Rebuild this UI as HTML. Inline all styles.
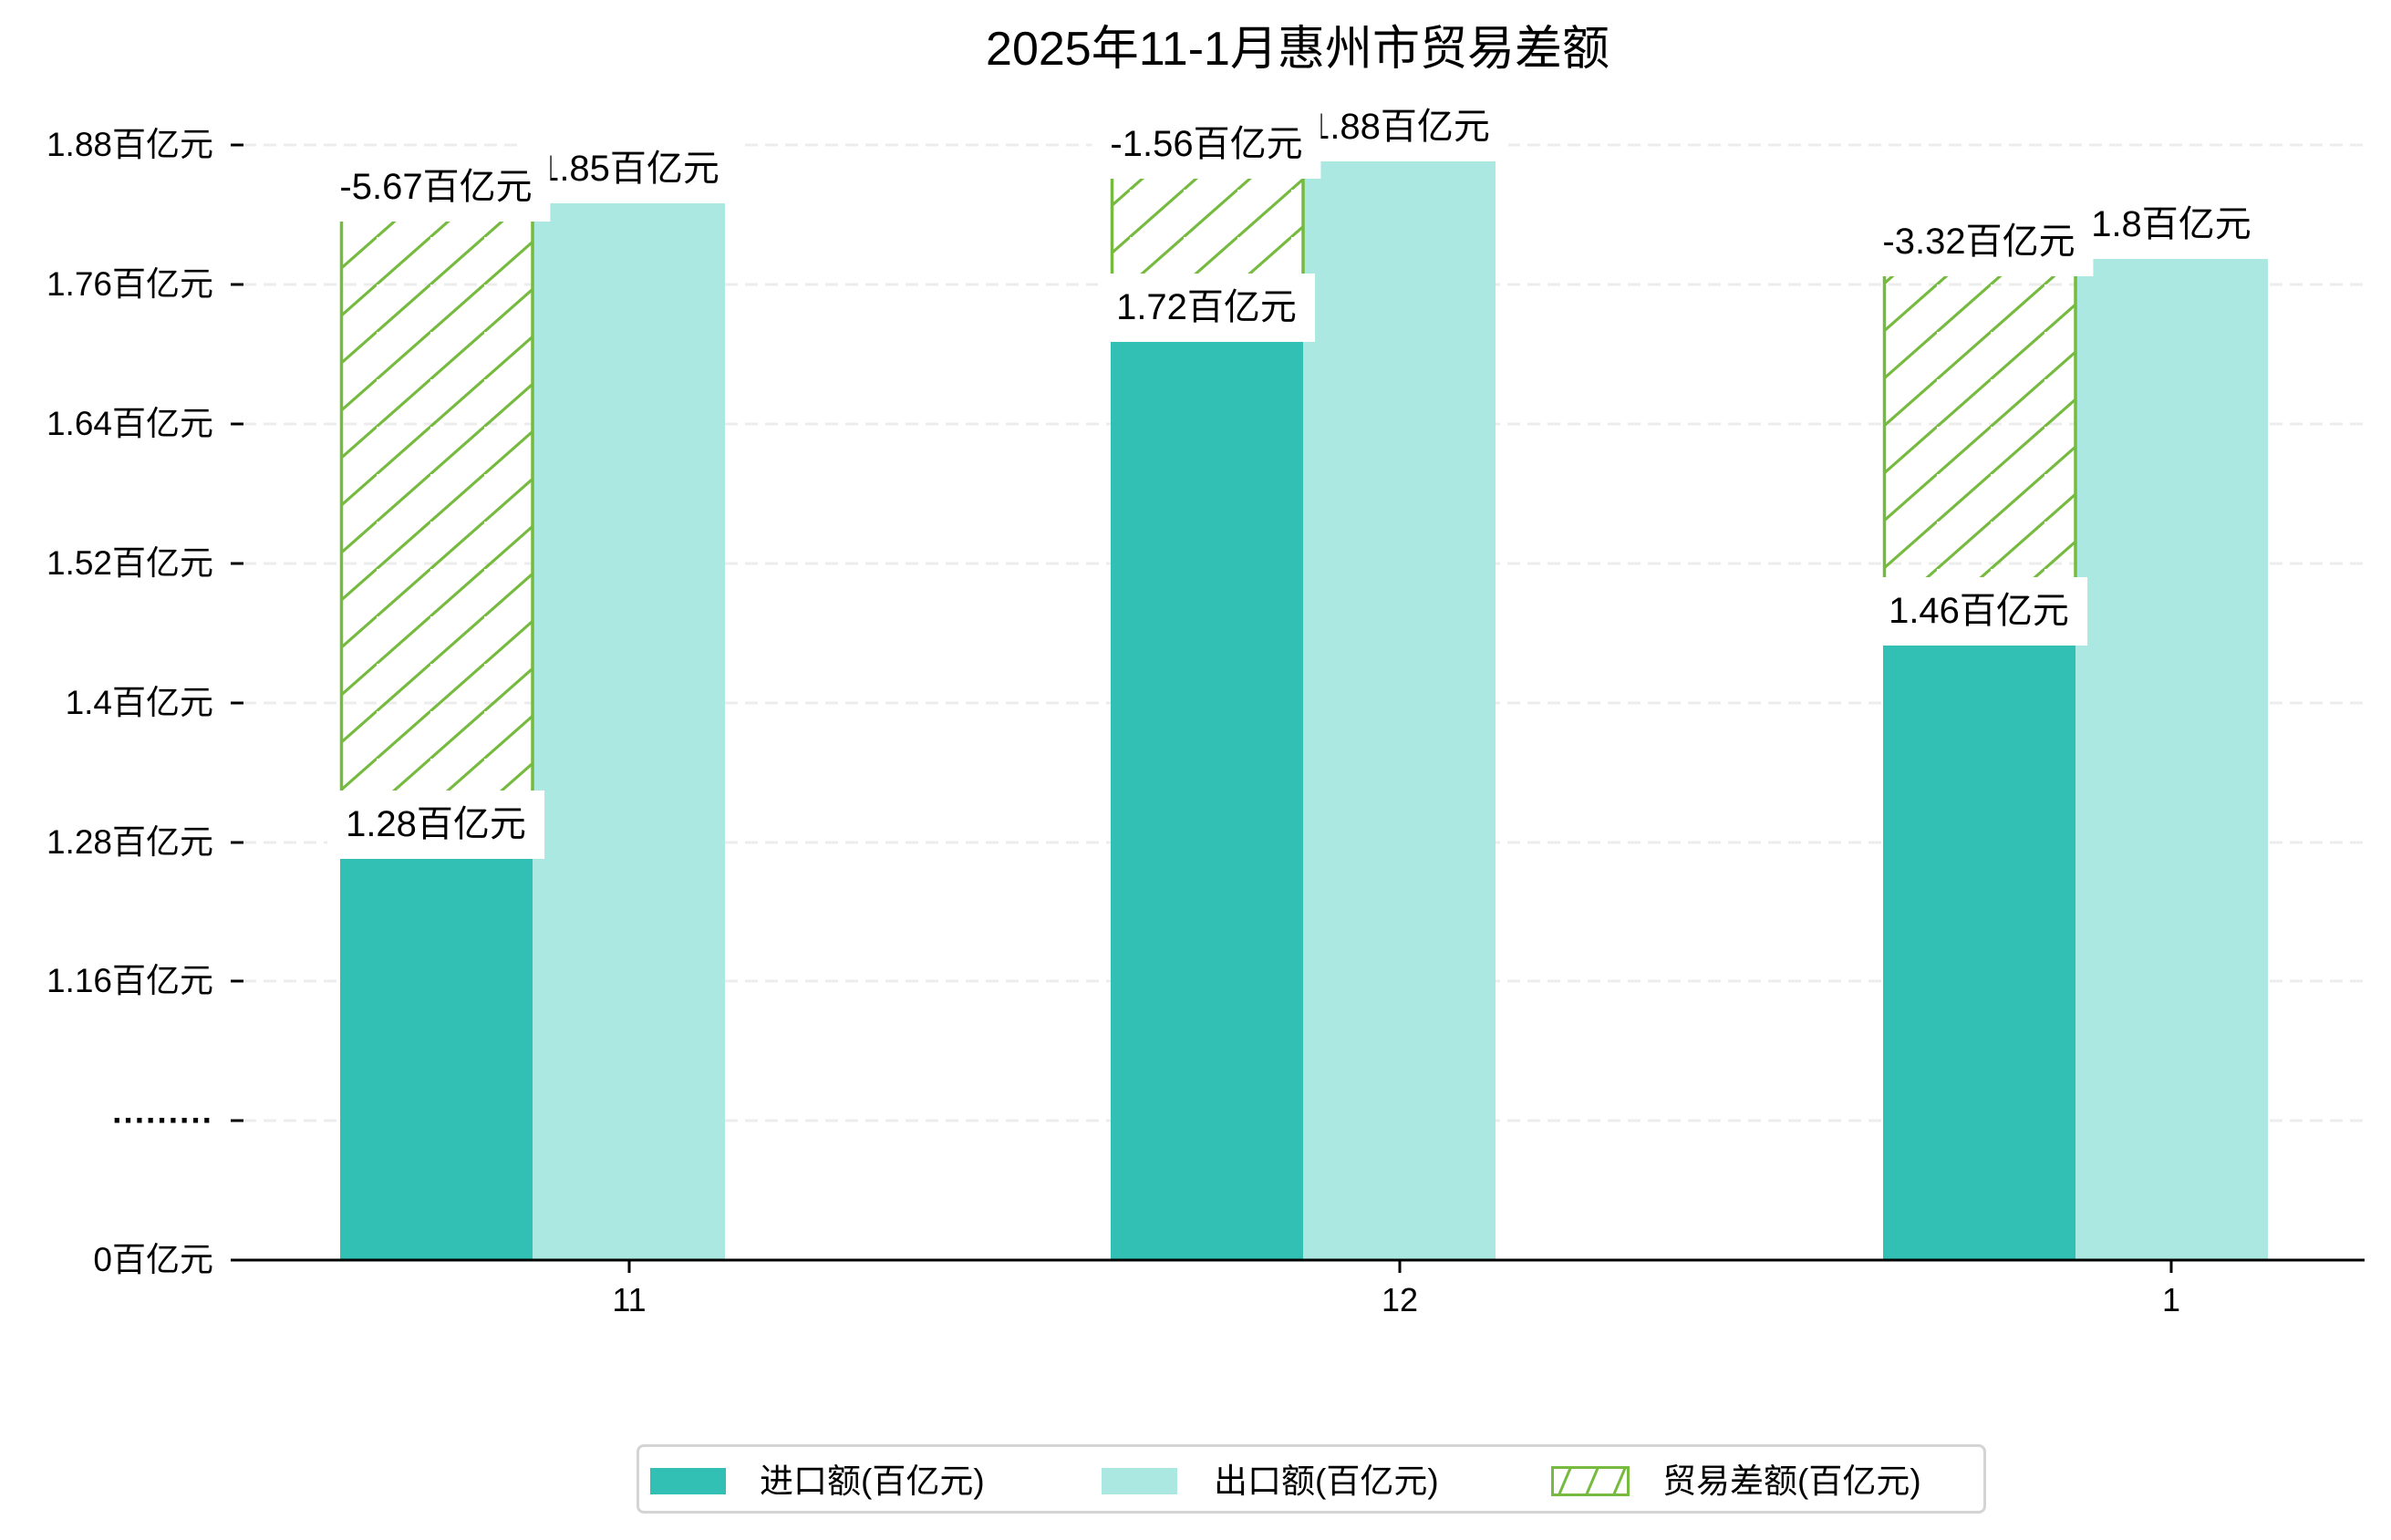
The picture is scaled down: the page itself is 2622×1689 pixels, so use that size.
<!DOCTYPE html>
<html><head><meta charset="utf-8"><style>
body{margin:0;background:#fff;}
#c{position:relative;width:2622px;height:1689px;overflow:hidden;background:#fff;font-family:"Liberation Sans","Noto Sans CJK SC",sans-serif;color:#000;}
.yl{position:absolute;right:2388px;font-size:37px;line-height:40px;white-space:nowrap;text-align:right;}
.lb{position:absolute;height:75px;line-height:75px;background:#fff;padding:0 20px;font-size:40px;white-space:nowrap;transform:translateX(-50%);}
.xl{position:absolute;font-size:36px;transform:translateX(-50%);top:1405px;}
</style></head><body><div id="c">
<div style="position:absolute;left:0;width:2846px;top:22px;text-align:center;font-size:52px;line-height:64px;">2025年11-1月惠州市贸易差额</div>
<svg width="2622" height="1689" style="position:absolute;left:0;top:0">
<defs><pattern id="h" patternUnits="userSpaceOnUse" width="59" height="52">
<line x1="-59" y1="104" x2="59" y2="0" stroke="#76bb40" stroke-width="3"/>
<line x1="0" y1="104" x2="118" y2="0" stroke="#76bb40" stroke-width="3"/>
<line x1="0" y1="52" x2="59" y2="0" stroke="#76bb40" stroke-width="3"/>
</pattern></defs>
<g stroke="#ececec" stroke-width="3" stroke-dasharray="14,8">
<line x1="267" x2="2593" y1="159" y2="159"/><line x1="267" x2="2593" y1="312" y2="312"/>
<line x1="267" x2="2593" y1="465" y2="465"/><line x1="267" x2="2593" y1="618" y2="618"/>
<line x1="267" x2="2593" y1="771" y2="771"/><line x1="267" x2="2593" y1="924" y2="924"/>
<line x1="267" x2="2593" y1="1076" y2="1076"/><line x1="267" x2="2593" y1="1229" y2="1229"/>
</g>
<g stroke="#000" stroke-width="3">
<line x1="253" x2="267" y1="159" y2="159"/><line x1="253" x2="267" y1="312" y2="312"/>
<line x1="253" x2="267" y1="465" y2="465"/><line x1="253" x2="267" y1="618" y2="618"/>
<line x1="253" x2="267" y1="771" y2="771"/><line x1="253" x2="267" y1="924" y2="924"/>
<line x1="253" x2="267" y1="1076" y2="1076"/><line x1="253" x2="267" y1="1229" y2="1229"/>
</g>
<!-- group 11 -->
<rect x="373" y="942" width="211" height="440" fill="#31c0b3"/>
<rect x="584" y="223" width="211" height="1159" fill="#aae8e1"/>
<rect x="373" y="243" width="211" height="699" fill="url(#h)"/>
<line x1="374.5" x2="374.5" y1="243" y2="942" stroke="#76bb40" stroke-width="3.5"/>
<line x1="584" x2="584" y1="243" y2="942" stroke="#76bb40" stroke-width="3.5"/>
<!-- group 12 -->
<rect x="1218" y="375" width="211" height="1007" fill="#31c0b3"/>
<rect x="1429" y="177" width="211" height="1205" fill="#aae8e1"/>
<rect x="1218" y="196" width="211" height="179" fill="url(#h)"/>
<line x1="1219.5" x2="1219.5" y1="196" y2="375" stroke="#76bb40" stroke-width="3.5"/>
<line x1="1429" x2="1429" y1="196" y2="375" stroke="#76bb40" stroke-width="3.5"/>
<!-- group 1 -->
<rect x="2065" y="708" width="211" height="674" fill="#31c0b3"/>
<rect x="2276" y="284" width="211" height="1098" fill="#aae8e1"/>
<rect x="2065" y="303" width="211" height="405" fill="url(#h)"/>
<line x1="2066.5" x2="2066.5" y1="303" y2="708" stroke="#76bb40" stroke-width="3.5"/>
<line x1="2276" x2="2276" y1="303" y2="708" stroke="#76bb40" stroke-width="3.5"/>
<line x1="253" x2="2593" y1="1382" y2="1382" stroke="#000" stroke-width="3"/>
<g stroke="#000" stroke-width="3"><line x1="690" x2="690" y1="1382" y2="1396"/><line x1="1535" x2="1535" y1="1382" y2="1396"/><line x1="2381" x2="2381" y1="1382" y2="1396"/></g>
</svg>
<div class="yl" style="top:139px">1.88百亿元</div>
<div class="yl" style="top:292px">1.76百亿元</div>
<div class="yl" style="top:445px">1.64百亿元</div>
<div class="yl" style="top:598px">1.52百亿元</div>
<div class="yl" style="top:751px">1.4百亿元</div>
<div class="yl" style="top:904px">1.28百亿元</div>
<div class="yl" style="top:1056px">1.16百亿元</div>
<div class="yl" style="top:1209px;font-weight:bold">·········</div>
<div class="yl" style="top:1362px">0百亿元</div>
<div class="xl" style="left:690px">11</div>
<div class="xl" style="left:1535px">12</div>
<div class="xl" style="left:2381px">1</div>
<!-- export labels -->
<div class="lb" style="left:690px;top:148px">1.85百亿元</div>
<div class="lb" style="left:1535px;top:102px">1.88百亿元</div>
<div class="lb" style="left:2381px;top:209px">1.8百亿元</div>
<!-- diff labels -->
<div class="lb" style="left:478px;top:168px">-5.67百亿元</div>
<div class="lb" style="left:1323px;top:121px">-1.56百亿元</div>
<div class="lb" style="left:2170px;top:228px">-3.32百亿元</div>
<!-- import labels -->
<div class="lb" style="left:478px;top:867px">1.28百亿元</div>
<div class="lb" style="left:1323px;top:300px">1.72百亿元</div>
<div class="lb" style="left:2170px;top:633px">1.46百亿元</div>
<!-- legend -->
<div style="position:absolute;left:698px;top:1584px;width:1474px;height:70px;border:3px solid #d4d4d4;border-radius:8px;background:#fff;"></div>
<div style="position:absolute;left:713px;top:1610px;width:83px;height:29px;background:#31c0b3"></div>
<div style="position:absolute;left:1208px;top:1610px;width:83px;height:29px;background:#aae8e1"></div>
<svg style="position:absolute;left:1701px;top:1608px" width="86" height="33"><rect x="1.5" y="1.5" width="83" height="30" fill="url(#h2)" stroke="#76bb40" stroke-width="3"/>
<defs><pattern id="h2" patternUnits="userSpaceOnUse" width="30" height="33"><line x1="8" y1="33" x2="22" y2="0" stroke="#76bb40" stroke-width="3"/></pattern></defs></svg>
<div style="position:absolute;left:833px;top:1603px;font-size:37px;line-height:44px">进口额(百亿元)</div>
<div style="position:absolute;left:1331px;top:1603px;font-size:37px;line-height:44px">出口额(百亿元)</div>
<div style="position:absolute;left:1823px;top:1603px;font-size:37px;line-height:44px">贸易差额(百亿元)</div>
</div></body></html>
